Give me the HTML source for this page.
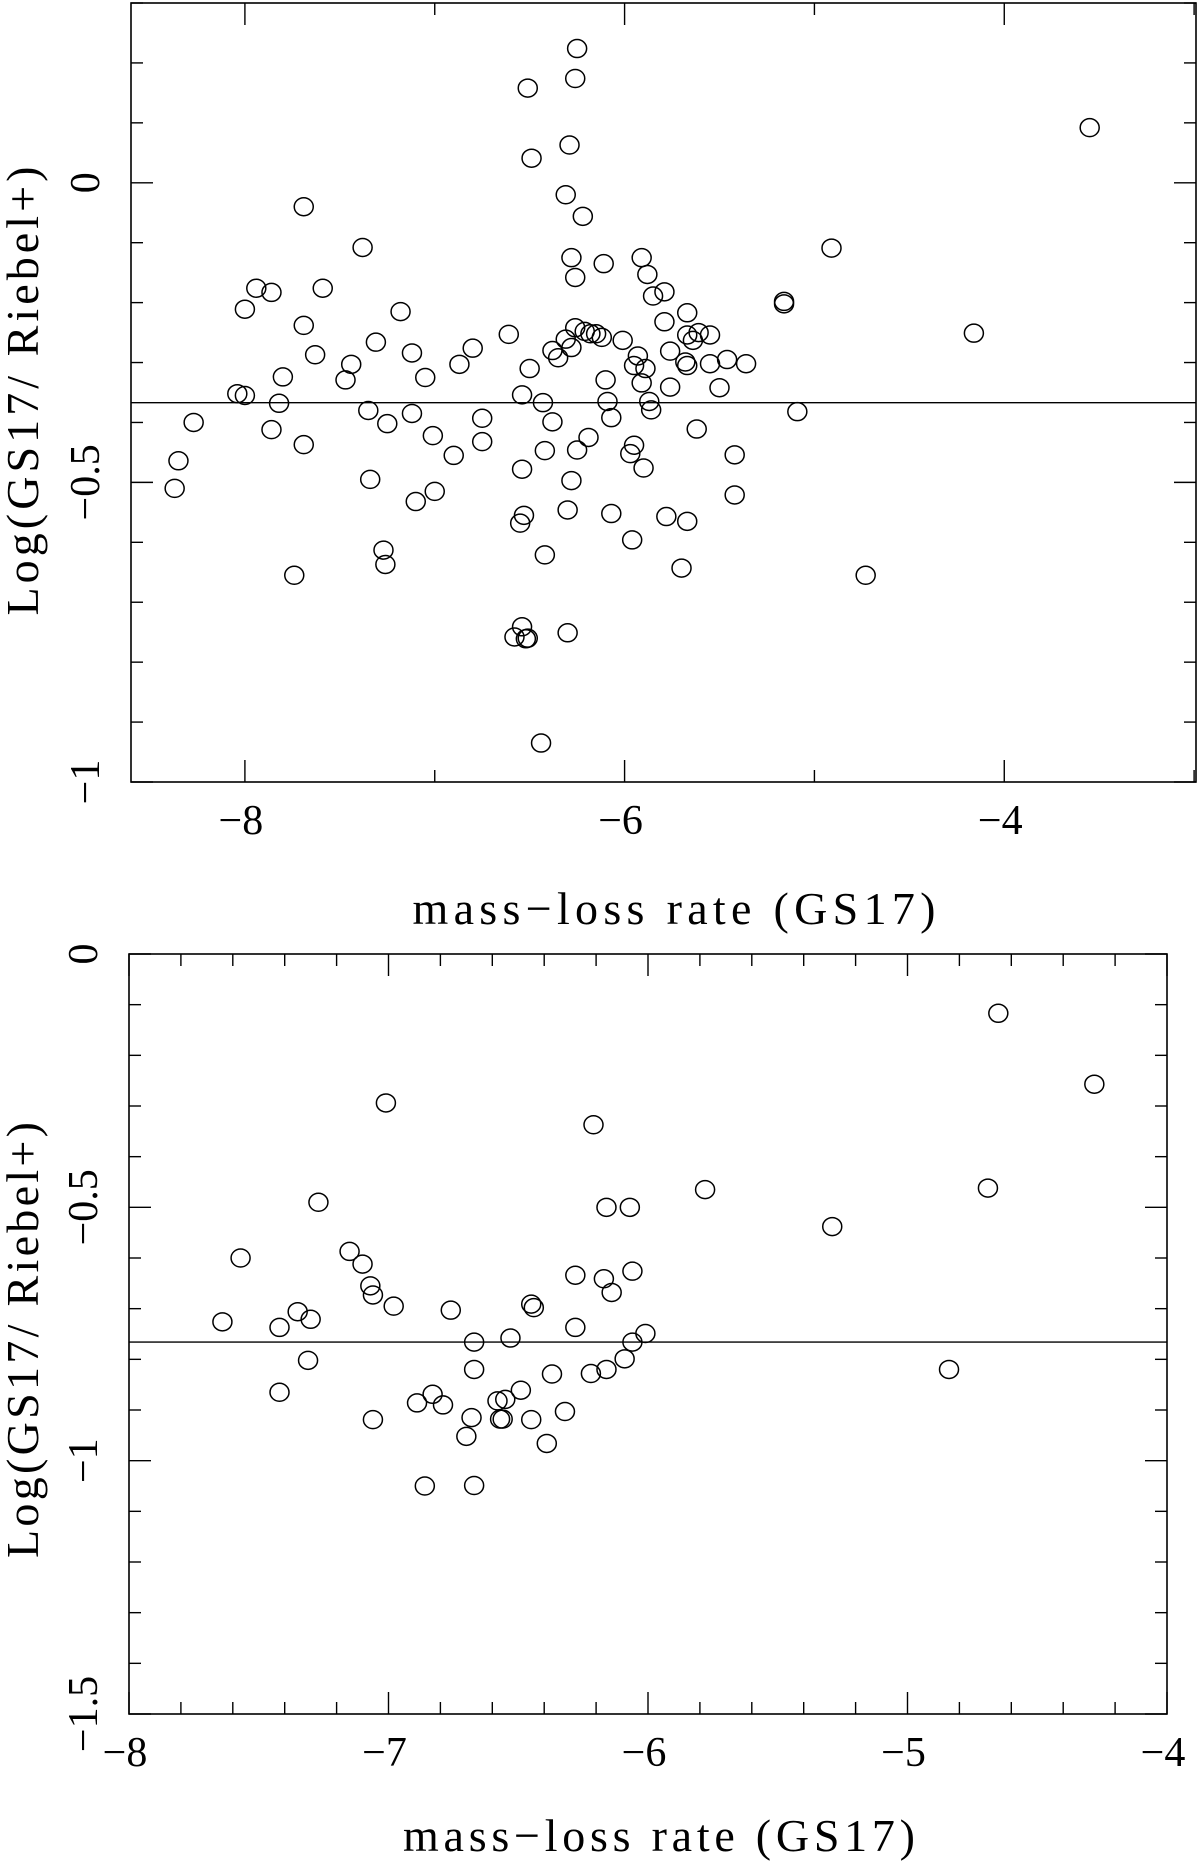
<!DOCTYPE html>
<html><head><meta charset="utf-8"><style>
html,body{margin:0;padding:0;background:#fff;}
svg{display:block;}
text{font-family:"Liberation Serif","DejaVu Serif",serif;fill:#000;}
</style></head><body>
<svg id="chart" width="1200" height="1864" viewBox="0 0 1200 1864" xmlns="http://www.w3.org/2000/svg"></svg>
<script>
// ---- Top panel data ----
const topX = [-8.37,-8.35,-8.27,-8.04,-8.00,-8.00,-7.94,-7.86,-7.86,-7.82,-7.80,-7.69,-7.69,-7.69,-7.63,-7.59,-7.47,-7.44,-7.38,-7.35,-7.34,-7.31,-7.25,-7.18,-7.12,-7.12,-7.10,-7.05,-7.01,-7.00,-6.90,-6.87,-6.80,-6.75,-6.75,-6.61,-6.55,-6.53,-7.27,-7.26,-7.74,-6.54,-6.54,-6.51,-6.50,-6.49,-6.43,-6.42,-6.42,-6.38,-6.38,-6.35,-6.58,-6.54,-6.52,-6.51,-6.44,-6.31,-6.31,-6.30,-6.30,-6.29,-6.28,-6.28,-6.28,-6.26,-6.26,-6.26,-6.25,-6.25,-6.22,-6.21,-6.19,-6.18,-6.15,-6.12,-6.11,-6.10,-6.09,-6.07,-6.07,-6.01,-5.97,-5.95,-5.96,-5.95,-5.93,-5.91,-5.91,-5.90,-5.89,-5.88,-5.87,-5.86,-5.85,-5.79,-5.79,-5.78,-5.76,-5.76,-5.70,-5.68,-5.67,-5.67,-5.67,-5.67,-5.64,-5.62,-5.61,-5.55,-5.55,-5.50,-5.46,-5.42,-5.42,-5.36,-5.16,-5.16,-5.09,-4.91,-4.73,-4.16,-3.55];
const topY = [-0.51,-0.464,-0.40,-0.352,-0.355,-0.211,-0.176,-0.183,-0.412,-0.368,-0.324,-0.04,-0.238,-0.437,-0.287,-0.176,-0.329,-0.303,-0.108,-0.38,-0.495,-0.266,-0.402,-0.215,-0.284,-0.385,-0.532,-0.325,-0.422,-0.515,-0.455,-0.303,-0.276,-0.393,-0.432,-0.253,-0.568,-0.555,-0.613,-0.637,-0.655,-0.354,-0.478,0.158,-0.31,0.041,-0.367,-0.447,-0.621,-0.28,-0.399,-0.292,-0.758,-0.741,-0.761,-0.76,-0.935,-0.261,-0.02,-0.751,-0.546,0.063,-0.125,-0.275,-0.497,-0.158,-0.242,0.174,0.224,-0.446,-0.056,-0.248,-0.425,-0.252,-0.252,-0.258,-0.135,-0.329,-0.365,-0.392,-0.552,-0.263,-0.452,-0.438,-0.596,-0.305,-0.289,-0.125,-0.334,-0.476,-0.31,-0.153,-0.365,-0.379,-0.189,-0.182,-0.232,-0.557,-0.281,-0.341,-0.643,-0.299,-0.217,-0.254,-0.565,-0.305,-0.263,-0.411,-0.25,-0.254,-0.302,-0.342,-0.295,-0.454,-0.521,-0.302,-0.198,-0.202,-0.382,-0.109,-0.655,-0.251,0.092];
const topRefY = -0.367;
const topXTickLabels = ["−8","−6","−4"];
const topXTickVals = [-8,-6,-4];
const topYTickLabels = ["0","−0.5","−1"];
const topYTickVals = [0,-0.5,-1];

// ---- Bottom panel data ----
const botX = [-7.64,-7.57,-7.42,-7.42,-7.35,-7.31,-7.30,-7.27,-7.15,-7.10,-7.07,-7.06,-7.06,-7.01,-6.98,-6.89,-6.86,-6.83,-6.79,-6.76,-6.70,-6.68,-6.67,-6.67,-6.67,-6.58,-6.57,-6.56,-6.55,-6.53,-6.49,-6.45,-6.45,-6.44,-6.39,-6.37,-6.32,-6.28,-6.28,-6.22,-6.21,-6.17,-6.16,-6.16,-6.14,-6.09,-6.07,-6.06,-6.06,-6.01,-5.78,-5.29,-4.84,-4.69,-4.65,-4.28];
const botY = [-0.726,-0.6,-0.865,-0.737,-0.706,-0.802,-0.721,-0.49,-0.587,-0.612,-0.655,-0.673,-0.919,-0.294,-0.695,-0.886,-1.05,-0.869,-0.89,-0.703,-0.952,-0.915,-0.82,-0.766,-1.049,-0.882,-0.918,-0.918,-0.879,-0.758,-0.861,-0.691,-0.919,-0.698,-0.966,-0.829,-0.903,-0.634,-0.737,-0.828,-0.337,-0.641,-0.82,-0.5,-0.668,-0.799,-0.5,-0.626,-0.766,-0.749,-0.465,-0.538,-0.82,-0.462,-0.117,-0.257];
const botRefY = -0.766;
const botXTickLabels = ["−8","−7","−6","−5","−4"];
const botXTickVals = [-8,-7,-6,-5,-4];
const botYTickLabels = ["0","−0.5","−1","−1.5"];
const botYTickVals = [0,-0.5,-1,-1.5];

const NS = "http://www.w3.org/2000/svg";
const svg = document.getElementById("chart");
function mk(tag, attrs, parent){
  const e = document.createElementNS(NS, tag);
  for (const k in attrs) e.setAttribute(k, attrs[k]);
  (parent||svg).appendChild(e);
  return e;
}

function panel(cfg){
  const g = mk("g", {});
  
  
  const sx = v => cfg.L + (v - cfg.x0) / (cfg.x1 - cfg.x0) * (cfg.R - cfg.L);
  const sy = v => cfg.B - (v - cfg.y0) / (cfg.y1 - cfg.y0) * (cfg.B - cfg.T);
  const frame = mk("rect", {x:cfg.L, y:cfg.T, width:cfg.R-cfg.L, height:cfg.B-cfg.T, fill:"none", stroke:"#000", "stroke-width":1.6}, g);
  
  
  const xs0 = Math.ceil(cfg.x0 / cfg.xMinor - 1e-6);
  const xs1 = Math.floor(cfg.x1 / cfg.xMinor + 1e-6);
  for (let k = xs0; k <= xs1; k++){
    const v = k * cfg.xMinor;
    const isMajor = Math.abs(v / cfg.xMajor - Math.round(v / cfg.xMajor)) < 1e-6;
    const len = isMajor ? 22 : 12;
    const X = sx(v);
    const t1 = mk("line", {x1:X, x2:X, y1:cfg.B, y2:cfg.B-len, stroke:"#000", "stroke-width":1.4}, g);
    
    
    const t2 = mk("line", {x1:X, x2:X, y1:cfg.T, y2:cfg.T+len, stroke:"#000", "stroke-width":1.4}, g);
    
    
  }
  const ny = Math.round((cfg.y1 - cfg.y0) / cfg.yMinor);
  for (let i = 0; i <= ny; i++){
    const v = cfg.y0 + i * cfg.yMinor;
    const isMajor = Math.abs(v / cfg.yMajor - Math.round(v / cfg.yMajor)) < 1e-6;
    const len = isMajor ? 22 : 12;
    const Y = sy(v);
    const t1 = mk("line", {x1:cfg.L, x2:cfg.L+len, y1:Y, y2:Y, stroke:"#000", "stroke-width":1.4}, g);
    
    
    const t2 = mk("line", {x1:cfg.R, x2:cfg.R-len, y1:Y, y2:Y, stroke:"#000", "stroke-width":1.4}, g);
    
    
  }
  cfg.xTickVals.forEach((v, i) => {
    const t = mk("text", {x:sx(v)-4, y:cfg.B+52, "font-size":42, "text-anchor":"middle"}, g);
    t.textContent = cfg.xTickLabels[i];
    
    
  });
  cfg.yTickVals.forEach((v, i) => {
    const X = cfg.L - 32, Y = sy(v);
    const t = mk("text", {x:X, y:Y, "font-size":42, "text-anchor":"middle", transform:`rotate(-90 ${X} ${Y})`}, g);
    t.textContent = cfg.yTickLabels[i];
    
    
  });
  const ref = mk("line", {x1:cfg.L, x2:cfg.R, y1:sy(cfg.refY), y2:sy(cfg.refY), stroke:"#000", "stroke-width":1.4}, g);
  
  
  cfg.xs.forEach((v, i) => {
    const c = mk("ellipse", {cx:sx(v), cy:sy(cfg.ys[i]), rx:9.5, ry:9, fill:"none", stroke:"#000", "stroke-width":1.5}, g);
    
    
  });
  const xt = mk("text", {x:cfg.xTitleX, y:cfg.xTitleY, "font-size":46, "text-anchor":"middle", textLength:cfg.xTitleLen, lengthAdjust:"spacing"}, g);
  xt.textContent = "mass−loss rate (GS17)";
  
  
  const YX = 38, YY = cfg.yTitleY;
  const yt = mk("text", {x:YX, y:YY, "font-size":46, "text-anchor":"middle", textLength:cfg.yTitleLen, lengthAdjust:"spacing", transform:`rotate(-90 ${YX} ${YY})`}, g);
  yt.textContent = "Log(GS17/  Riebel+)";
  
  
}

panel({name:"top-panel", L:131, R:1196, T:3, B:782, x0:-8.6, x1:-2.99, y0:-1, y1:0.3,
  xMinor:1, xMajor:2, yMinor:0.1, yMajor:0.5,
  xs:topX, ys:topY, refY:topRefY,
  xTickVals:topXTickVals, xTickLabels:topXTickLabels, yTickVals:topYTickVals, yTickLabels:topYTickLabels,
  xTitleX:674, xTitleY:924, xTitleLen:523, yTitleY:391, yTitleLen:449});
panel({name:"bottom-panel", L:129, R:1167, T:954, B:1714, x0:-8, x1:-4, y0:-1.5, y1:0,
  xMinor:0.2, xMajor:1, yMinor:0.1, yMajor:0.5,
  xs:botX, ys:botY, refY:botRefY,
  xTickVals:botXTickVals, xTickLabels:botXTickLabels, yTickVals:botYTickVals, yTickLabels:botYTickLabels,
  xTitleX:659, xTitleY:1851, xTitleLen:512, yTitleY:1340, yTitleLen:436});
</script>
</body></html>
